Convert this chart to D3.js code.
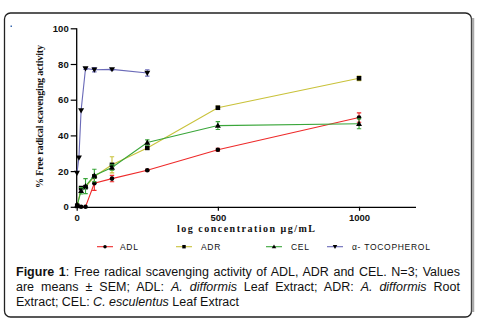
<!DOCTYPE html>
<html>
<head>
<meta charset="utf-8">
<script src="https://cdn.jsdelivr.net/npm/d3@7"></script>
<style>
  body { margin: 0; background: #fff; }
  svg { display: block; }
</style>
</head>
<body>
<div id="chart"></div>
<script>
// concentrations (µg/mL) and mean % scavenging values
const conc = [1.95, 15.6, 31.25, 62.5, 125, 250, 500, 1000];
const adl = [1, 0, 0, 13.2, 15.8, 20.5, 32, 50];
const adr = [0.5, 10.5, 11, 17, 23.5, 33, 55.5, 72];
const cel = [1, 9, 11.6, 17.5, 22, 36, 45.5, 46.5];
const adlErr = [0, 0, 0, 4, 1.8, 0.5, 0.8, 2.6];
const adrErr = [0, 0, 0, 1, 4.5, 0.8, 1, 1.3];
const celErr = [0, 1.8, 4.2, 3.5, 1.5, 1.5, 2.2, 2.8];
const tocConc = [1, 7.8, 15.6, 31.25, 62.5, 125, 250];
const toc = [19, 27.5, 54, 77.5, 76.8, 77, 75];
const tocErr = [0, 0, 0, 0.5, 1.2, 0.5, 1.8];

const yTicks = [0, 20, 40, 60, 80, 100];
const xTicks = [0, 500, 1000];

const captionLines = [
    [{ t: "Figure 1", b: true }, { t: ": Free radical scavenging activity of ADL, ADR and CEL. N=3; Values" }],
    [{ t: "are means ± SEM; ADL: " }, { t: "A. difformis", i: true }, { t: " Leaf Extract; ADR: " }, { t: "A. difformis", i: true }, { t: " Root" }],
    [{ t: "Extract; CEL: " }, { t: "C. esculentus", i: true }, { t: " Leaf Extract" }]
];

const width = 479, height = 321;

const svg = d3.select("#chart").append("svg")
    .attr("width", width)
    .attr("height", height);

// outer frame
svg.append("rect")
    .attr("x", 4.5).attr("y", 13)
    .attr("width", 467).attr("height", 304)
    .attr("rx", 6).attr("ry", 6)
    .attr("fill", "none")
    .attr("stroke", "#222")
    .attr("stroke-width", 1.3);
svg.append("line")
    .attr("x1", 473).attr("x2", 473)
    .attr("y1", 18).attr("y2", 312)
    .attr("stroke", "#aaa").attr("stroke-width", 2.5);
svg.append("rect")
    .attr("x", 10.5).attr("y", 25.5)
    .attr("width", 1.5).attr("height", 1.5)
    .attr("fill", "#3a6ab0");

// scales
const x = d3.scaleLinear().domain([0, 1200]).range([76.7, 415.5]);
const y = d3.scaleLinear().domain([0, 100]).range([206.8, 28.3]);

const axisFont = "Arial, 'Liberation Sans', sans-serif";

// y axis
const yAxis = svg.append("g")
    .attr("transform", `translate(${x(0)},0)`)
    .call(d3.axisLeft(y).tickValues(yTicks).tickSize(6).tickPadding(2));
// x axis
const xAxis = svg.append("g")
    .attr("transform", `translate(0,${y(0)})`)
    .call(d3.axisBottom(x).tickValues(xTicks).tickFormat(d3.format("d"))
        .tickSize(4).tickPadding(3).tickSizeOuter(0));

[yAxis, xAxis].forEach(g => {
    g.select(".domain").attr("stroke", "#000").attr("stroke-width", 1.3);
    g.selectAll(".tick line").attr("stroke", "#000").attr("stroke-width", 1.2);
    g.selectAll(".tick text")
        .attr("fill", "#111")
        .style("font-family", axisFont)
        .style("font-weight", "bold")
        .style("font-size", "9.5px");
});
yAxis.select(".domain").attr("d", `M0,${y(100)}V${y(0)}`);

// axis titles
svg.append("text")
    .attr("transform", `translate(43,${(45 + 188) / 2}) rotate(-90)`)
    .attr("text-anchor", "middle")
    .attr("textLength", 143)
    .attr("lengthAdjust", "spacing")
    .style("font-family", "'Liberation Serif', 'Times New Roman', serif")
    .style("font-weight", "bold")
    .style("font-size", "10px")
    .attr("fill", "#111")
    .text("% Free radical scavenging activity");

svg.append("text")
    .attr("x", 246)
    .attr("y", 232)
    .attr("text-anchor", "middle")
    .attr("textLength", 138)
    .attr("lengthAdjust", "spacing")
    .style("font-family", "'Liberation Serif', 'Times New Roman', serif")
    .style("font-weight", "bold")
    .style("font-size", "10px")
    .attr("fill", "#111")
    .text("log concentration μg/mL");

// series
const series = [
    { name: "α- TOCOPHEROL", xs: tocConc, ys: toc, err: tocErr, color: "#6a6ab8", symbol: "down" },
    { name: "ADL", xs: conc, ys: adl, err: adlErr, color: "#ee2a2a", symbol: "circle" },
    { name: "ADR", xs: conc, ys: adr, err: adrErr, color: "#c9c23a", symbol: "square" },
    { name: "CEL", xs: conc, ys: cel, err: celErr, color: "#3aa63a", symbol: "up" }
];

function drawMarker(g, kind, cx, cy, k = 1) {
    if (kind === "circle") {
        g.append("circle").attr("cx", cx).attr("cy", cy).attr("r", 2.3 * k).attr("fill", "#000");
    } else if (kind === "square") {
        g.append("rect").attr("x", cx - 2.3 * k).attr("y", cy - 2.3 * k)
            .attr("width", 4.6 * k).attr("height", 4.6 * k).attr("fill", "#000");
    } else if (kind === "up") {
        g.append("path").attr("d", `M${cx},${cy - 3 * k}L${cx + 3 * k},${cy + 2.2 * k}L${cx - 3 * k},${cy + 2.2 * k}Z`).attr("fill", "#000");
    } else {
        g.append("path").attr("d", `M${cx},${cy + 3 * k}L${cx + 3 * k},${cy - 2.2 * k}L${cx - 3 * k},${cy - 2.2 * k}Z`).attr("fill", "#000");
    }
}

const line = d3.line().x(d => x(d[0])).y(d => y(d[1]));

series.forEach(s => {
    const pts = s.xs.map((c, i) => [c, s.ys[i], s.err[i]]);
    const g = svg.append("g");
    g.append("path")
        .datum(pts)
        .attr("d", line)
        .attr("fill", "none")
        .attr("stroke", s.color)
        .attr("stroke-width", 1.1);
    pts.filter(d => d[2] > 0).forEach(d => {
        const px = x(d[0]);
        const top = y(d[1] + d[2]), bot = y(d[1] - d[2]);
        g.append("path")
            .attr("d", `M${px},${top}V${bot}M${px - 2.2},${top}H${px + 2.2}M${px - 2.2},${bot}H${px + 2.2}`)
            .attr("stroke", s.color)
            .attr("stroke-width", 1.1)
            .attr("fill", "none");
    });
    pts.forEach(d => drawMarker(g, s.symbol, x(d[0]), y(d[1])));
});

// legend
const legendY = 246.7;
const legendItems = [
    { s: series[1], x0: 97, tx: 120 },
    { s: series[2], x0: 176, tx: 201 },
    { s: series[3], x0: 266, tx: 291 },
    { s: series[0], x0: 327, tx: 352 }
];
legendItems.forEach(it => {
    const g = svg.append("g");
    g.append("line")
        .attr("x1", it.x0).attr("x2", it.x0 + 16)
        .attr("y1", legendY).attr("y2", legendY)
        .attr("stroke", it.s.color).attr("stroke-width", 1.1);
    drawMarker(g, it.s.symbol, it.x0 + 8, legendY, 0.75);
    g.append("text")
        .attr("x", it.tx)
        .attr("y", legendY + 3)
        .style("font-family", axisFont)
        .style("font-size", "8.5px")
        .style("letter-spacing", "0.7px")
        .attr("fill", "#111")
        .text(it.s.name);
});

// caption, justified by word-spacing
const capX = 16, capRight = 460;
const capY = [276, 291, 305.5];
captionLines.forEach((parts, li) => {
    const t = svg.append("text")
        .attr("x", capX)
        .attr("y", capY[li])
        .style("font-family", axisFont)
        .style("font-size", "12.5px")
        .attr("fill", "#111");
    parts.forEach(p => {
        t.append("tspan")
            .style("font-weight", p.b ? "bold" : null)
            .style("font-style", p.i ? "italic" : null)
            .text(p.t);
    });
    if (li < captionLines.length - 1) {
        const w = t.node().getComputedTextLength();
        const spaces = parts.map(p => p.t).join("").split(" ").length - 1;
        t.style("word-spacing", `${(capRight - capX - w) / spaces}px`);
    }
});
</script>
</body>
</html>
